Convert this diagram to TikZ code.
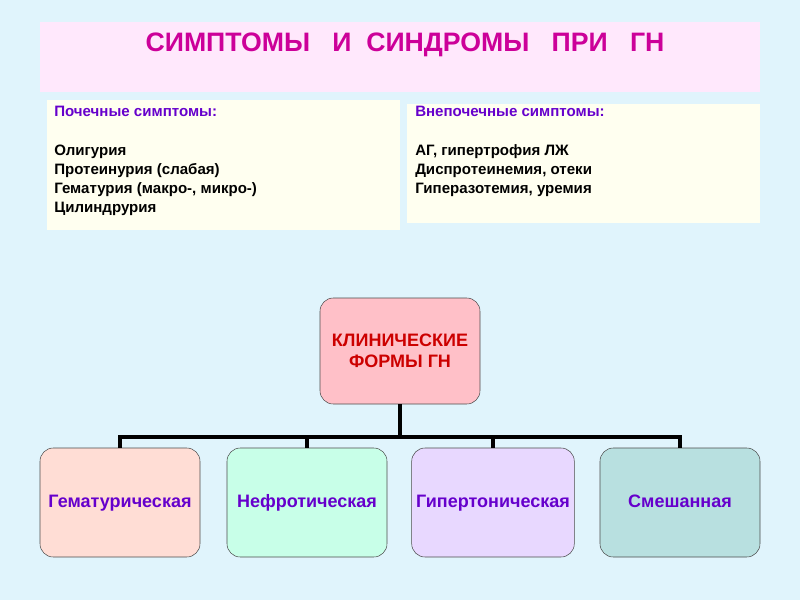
\documentclass[tikz,border=0pt]{standalone}
\usepackage{fontspec}
\setmainfont{Liberation Sans}
\definecolor{bg}{HTML}{E0F4FC}
\definecolor{ttl}{HTML}{FFE8FC}
\definecolor{mag}{HTML}{CC0099}
\definecolor{yel}{HTML}{FFFFF0}
\definecolor{pur}{HTML}{6600CC}
\definecolor{pk}{HTML}{FFC0C8}
\definecolor{dr}{HTML}{CC0000}
\definecolor{f1}{HTML}{FFDDD5}
\definecolor{f2}{HTML}{C8FFE8}
\definecolor{f3}{HTML}{E8D8FF}
\definecolor{f4}{HTML}{B8E0E0}
\tikzset{
 form/.style={draw=black!70,rounded corners=10pt,minimum width=120pt,minimum height=81.75pt,font=\bfseries\fontsize{13.5}{16}\selectfont,text=pur,text height=10pt,text depth=3pt},
 info/.style={fill=yel,anchor=north west,align=left,inner sep=0pt,font=\bfseries\fontsize{11.3}{14.25}\selectfont},
 conn/.style={line width=3pt}
}
\begin{document}
\begin{tikzpicture}[x=0.75pt,y=-0.75pt]
\fill[bg] (0,0) rectangle (800,600);
\fill[ttl] (40,22) rectangle (760,92);
\node[font=\bfseries\fontsize{20}{24}\selectfont,text=mag] (title) at (405,45) {СИМПТОМЫ\ \ \ И\ \ СИНДРОМЫ\ \ \ ПРИ\ \ \ ГН};
\fill[yel] (47,100) rectangle (400,230);
\fill[yel] (407,104) rectangle (760,223);
\node[info] (left) at (54,106) {\textcolor{pur}{Почечные симптомы:}\\[15pt]Олигурия\\Протеинурия (слабая)\\Гематурия (макро-, микро-)\\Цилиндрурия};
\node[info] (right) at (415,106) {\textcolor{pur}{Внепочечные симптомы:}\\[15pt]АГ, гипертрофия ЛЖ\\Диспротеинемия, отеки\\Гиперазотемия, уремия};
\node[draw=black!70,fill=pk,rounded corners=10pt,minimum width=120pt,minimum height=79.5pt,align=center,font=\bfseries\fontsize{13.5}{15.5}\selectfont,text=dr] (c) at (400,351) {КЛИНИЧЕСКИЕ\\ФОРМЫ ГН};
\node[form,fill=f1] (a1) at (120,502.5) {Гематурическая};
\node[form,fill=f2] (a2) at (307,502.5) {Нефротическая};
\node[form,fill=f3] (a3) at (493,502.5) {Гипертоническая};
\node[form,fill=f4] (a4) at (680,502.5) {Смешанная};
\coordinate (j) at (400,437);
\draw[conn] (c.south) -- (j);
\draw[conn] (a1.north) -- (120,437) -- (680,437) -- (a4.north);
\draw[conn] (a2.north) -- (307,437);
\draw[conn] (a3.north) -- (493,437);
\end{tikzpicture}
\end{document}
